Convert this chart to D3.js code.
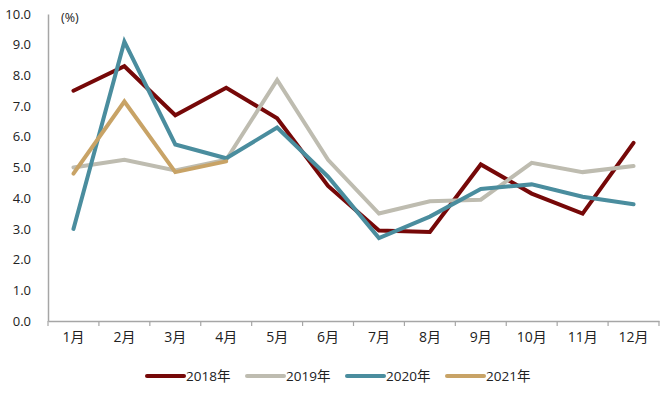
<!DOCTYPE html>
<html>
<head>
<meta charset="utf-8">
<script src="https://cdn.jsdelivr.net/npm/d3@7"></script>
<style>
  body { margin: 0; background: #fff; }
  text { font-family: "Open Sans", "Noto Sans CJK SC", sans-serif; fill: #222; }
</style>
</head>
<body>
<svg id="chart" width="670" height="396"></svg>
<script>
// Данные
const months = ['1月', '2月', '3月', '4月', '5月', '6月', '7月', '8月', '9月', '10月', '11月', '12月'];
const yTicks = [0, 1, 2, 3, 4, 5, 6, 7, 8, 9, 10];
const seriesNames = ['2018年', '2019年', '2020年', '2021年'];
const values2018 = [7.5, 8.3, 6.7, 7.6, 6.6, 4.4, 2.95, 2.9, 5.1, 4.15, 3.5, 5.8];
const values2019 = [5.0, 5.25, 4.9, 5.25, 7.85, 5.25, 3.5, 3.9, 3.95, 5.15, 4.85, 5.05];
const values2020 = [3.0, 9.1, 5.75, 5.3, 6.3, 4.7, 2.7, 3.4, 4.3, 4.45, 4.05, 3.8];
const values2021 = [4.8, 7.15, 4.85, 5.2];
const colors = ['#760808', '#bebcb0', '#4a8d9e', '#c8a366'];

const allValues = [values2018, values2019, values2020, values2021];

const svg = d3.select('#chart');
const margin = { left: 48, right: 11, top: 14, bottom: 75 };
const width = 670, height = 396;

const x = d3.scaleBand()
    .domain(months)
    .range([margin.left, width - margin.right]);

const y = d3.scaleLinear()
    .domain([0, 10])
    .range([height - margin.bottom, margin.top]);

// Ось X
const xAxis = svg.append('g')
    .attr('transform', `translate(0,${y(0)})`)
    .call(d3.axisBottom(x).tickSize(0).tickPadding(11));
xAxis.select('.domain').attr('stroke', '#a6a6a6').attr('stroke-width', 1.5);
xAxis.selectAll('text').attr('font-size', 14).attr('fill', '#222');

// Засечки между категориями
const bounds = d3.range(months.length + 1).map(i => margin.left + i * x.step());
svg.append('g').selectAll('line')
    .data(bounds)
    .join('line')
    .attr('x1', d => d).attr('x2', d => d)
    .attr('y1', y(0)).attr('y2', y(0) + 5)
    .attr('stroke', '#a6a6a6')
    .attr('stroke-width', 1.2);

// Ось Y
const yAxis = svg.append('g')
    .attr('transform', `translate(${margin.left},0)`)
    .call(d3.axisLeft(y).tickValues(yTicks).tickFormat(d3.format('.1f')).tickSize(0).tickPadding(17));
yAxis.select('.domain').attr('stroke', '#a6a6a6').attr('stroke-width', 1.5);
yAxis.selectAll('text').attr('font-size', 13).attr('fill', '#222');

svg.append('text')
    .attr('x', 61).attr('y', 22)
    .attr('font-size', 12.5)
    .text('(%)');

// Линии
const line = d3.line()
    .x((d, i) => x(months[i]) + x.bandwidth() / 2)
    .y(d => y(d));

allValues.forEach((vals, k) => {
    svg.append('path')
        .datum(vals)
        .attr('d', line)
        .attr('fill', 'none')
        .attr('stroke', colors[k])
        .attr('stroke-width', 4)
        .attr('stroke-linejoin', 'miter')
        .attr('stroke-linecap', 'round');
});

// Легенда
const legend = svg.append('g').attr('transform', 'translate(147,376)');
seriesNames.forEach((name, k) => {
    const g = legend.append('g').attr('transform', `translate(${k * 100},0)`);
    g.append('line')
        .attr('x1', 0).attr('x2', 37)
        .attr('y1', 0).attr('y2', 0)
        .attr('stroke', colors[k])
        .attr('stroke-width', 4)
        .attr('stroke-linecap', 'round');
    g.append('text')
        .attr('x', 39).attr('y', 5)
        .attr('font-size', 13.5)
        .text(name);
});
</script>
</body>
</html>
